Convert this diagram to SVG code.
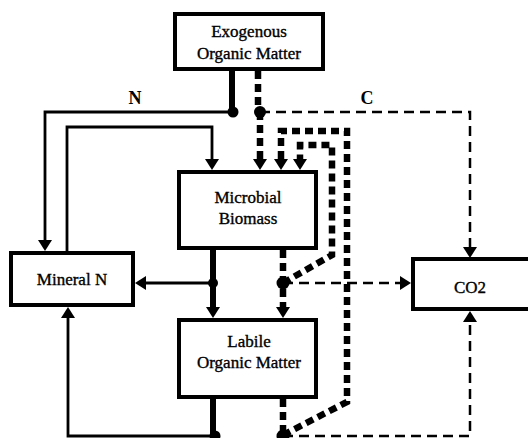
<svg xmlns="http://www.w3.org/2000/svg" width="528" height="438" viewBox="0 0 528 438">
<style>
.box{fill:#fff;stroke:#000;stroke-width:4}
.lbl{font-family:"Liberation Serif","Times New Roman",serif;font-size:17px;fill:#000;stroke:#000;stroke-width:0.35;text-anchor:middle}
.hd{font-family:"Liberation Serif","Times New Roman",serif;font-size:18px;font-weight:bold;fill:#000;text-anchor:middle}
.thin{fill:none;stroke:#000;stroke-width:2.8}
.thick{fill:none;stroke:#000;stroke-width:6}
.dash{fill:none;stroke:#000;stroke-width:2.5;stroke-dasharray:10 6}
.dot{fill:none;stroke:#000;stroke-width:6.5;stroke-dasharray:8 5}
.node{fill:#000}
</style>
<defs>
<marker id="ah" markerUnits="userSpaceOnUse" markerWidth="11" markerHeight="14" viewBox="0 0 11 14" refX="0" refY="7" orient="auto">
<path d="M0,0 L11,7 L0,14 z" fill="#000"/>
</marker>
</defs>
<g id="connectors">
<line class="thick" x1="232" y1="71" x2="232" y2="112"/>
<path class="thin" d="M233,112 H45 V240" marker-end="url(#ah)"/>
<path class="thin" d="M67,251 V127 H212 V159" marker-end="url(#ah)"/>
<path class="thick" d="M213,250 V307" marker-end="url(#ah)"/>
<path class="thin" d="M213,283 H146" marker-end="url(#ah)" style="stroke-width:3"/>
<path class="thick" d="M213,399 V438"/>
<path class="thin" d="M213,436 H68 V318" marker-end="url(#ah)"/>
<line class="dot" x1="258" y1="71" x2="258" y2="112"/>
<path class="dash" d="M260,112 H470 V247" marker-end="url(#ah)"/>
<path class="dot" d="M260,112 V159" marker-end="url(#ah)"/>
<path class="dot" d="M283,435 L347,402 V131 H281 V159" marker-end="url(#ah)"/>
<path class="dot" d="M283,283 L332,255 V145 H300 V159" marker-end="url(#ah)"/>
<path class="dot" d="M283,250 V307" marker-end="url(#ah)"/>
<path class="dash" d="M283,283 H400" marker-end="url(#ah)"/>
<path class="dot" d="M283,399 V435"/>
<path class="dash" d="M283,436 H470 V322" marker-end="url(#ah)"/>
<circle class="node" cx="233" cy="112" r="5.5"/>
<circle class="node" cx="260" cy="112" r="6"/>
<circle class="node" cx="213" cy="283" r="5"/>
<circle class="node" cx="283" cy="283" r="6.5"/>
<circle class="node" cx="215" cy="436" r="5.5"/>
<circle class="node" cx="283" cy="436" r="6.5"/>
<text class="hd" x="135" y="104">N</text>
<text class="hd" x="367" y="104">C</text>
</g>
<g id="exogenous">
<rect class="box" x="175" y="14" width="148" height="55"/>
<text class="lbl" x="249" y="37">Exogenous</text>
<text class="lbl" x="249" y="59">Organic Matter</text>
</g>
<g id="microbial">
<rect class="box" x="179" y="172" width="137" height="76"/>
<text class="lbl" x="248" y="203">Microbial</text>
<text class="lbl" x="248" y="224">Biomass</text>
</g>
<g id="labile">
<rect class="box" x="179" y="320" width="137" height="77"/>
<text class="lbl" x="249" y="347">Labile</text>
<text class="lbl" x="249" y="368">Organic Matter</text>
</g>
<g id="mineral">
<rect class="box" x="11" y="253" width="122" height="52"/>
<text class="lbl" x="72" y="285">Mineral N</text>
</g>
<g id="co2">
<rect class="box" x="413" y="259" width="130" height="50"/>
<text class="lbl" x="470" y="293">CO2</text>
</g>
</svg>
